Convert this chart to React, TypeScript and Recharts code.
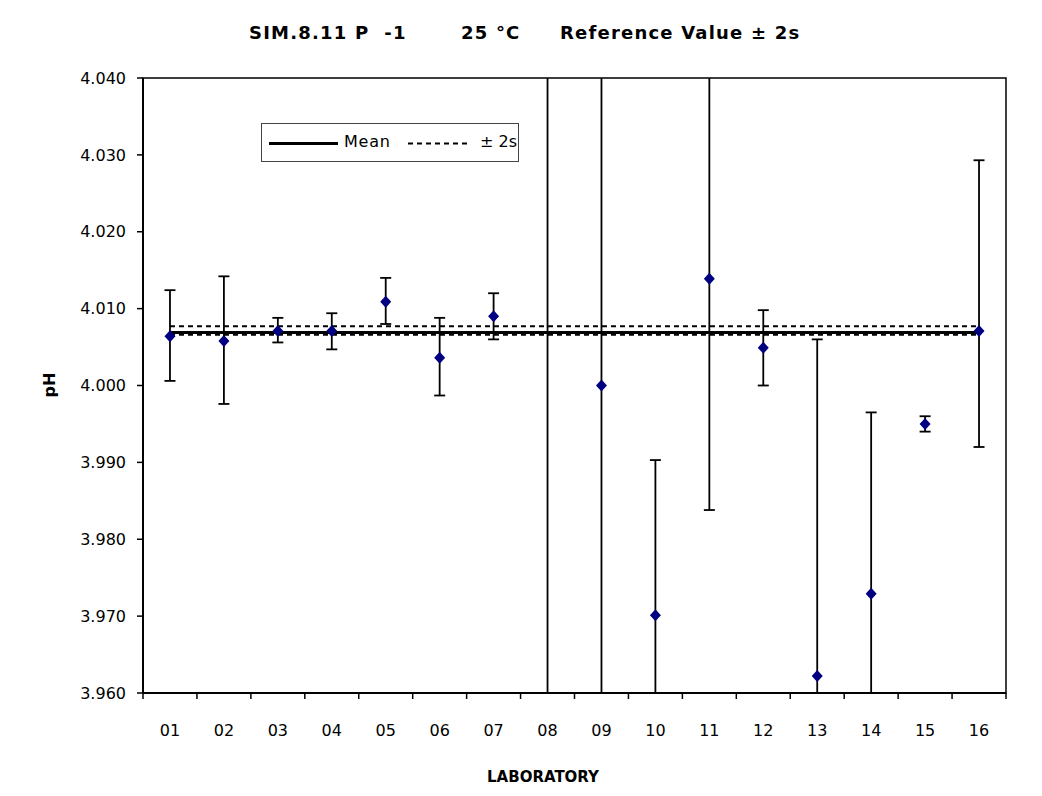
import React from 'react';
import {
  ScatterChart,
  Scatter,
  XAxis,
  YAxis,
  ErrorBar,
  ReferenceLine,
  ReferenceArea,
} from 'recharts';

const labs = ['01', '02', '03', '04', '05', '06', '07', '08', '09', '10', '11', '12', '13', '14', '15', '16'];
const values = [4.0064, 4.0058, 4.0071, 4.0071, 4.0109, 4.0036, 4.009, 4.06, 4.0, 3.9701, 4.0139, 4.0049, 3.9622, 3.9729, 3.995, 4.0071];
const upper = [4.0124, 4.0142, 4.0088, 4.0094, 4.014, 4.0088, 4.012, 4.2, 4.2, 3.9903, 4.2, 4.0098, 4.006, 3.9965, 3.996, 4.0293];
const lower = [4.0006, 3.9976, 4.0056, 4.0047, 4.008, 3.9987, 4.006, 3.8, 3.8, 3.8, 3.9838, 4.0, 3.8, 3.8, 3.994, 3.992];
const meanValue = 4.0069;
const upper2s = 4.0077;
const lower2s = 4.0066;
const yTicks = [3.96, 3.97, 3.98, 3.99, 4.0, 4.01, 4.02, 4.03, 4.04];

const data = labs.map((lab, i) => ({
  x: i + 1,
  lab,
  y: values[i],
  err: [values[i] - lower[i], upper[i] - values[i]],
}));

const xTicks: number[] = [];
for (let i = 0; i <= labs.length; i++) {
  xTicks.push(i + 0.5);
  if (i < labs.length) xTicks.push(i + 1);
}

const FONT = "'DejaVu Sans', sans-serif";

const XTick = (props: any) => {
  const { x, y, payload } = props;
  const v = payload.value;
  if (Number.isInteger(v)) {
    return (
      <text x={x} y={y + 43} textAnchor="middle" fontSize={16} fontFamily={FONT} fill="#000">
        {labs[v - 1]}
      </text>
    );
  }
  return <line x1={x} y1={y} x2={x} y2={y + 6} stroke="#000" strokeWidth={1.5} />;
};

const Diamond = (props: any) => {
  const { cx, cy } = props;
  if (cx == null || cy == null) return null;
  const w = 5.5;
  const h = 6;
  return (
    <path
      d={`M${cx},${cy - h}L${cx + w},${cy}L${cx},${cy + h}L${cx - w},${cy}Z`}
      fill="#000080"
      stroke="none"
    />
  );
};

export default function App() {
  return (
    <div
      style={{
        position: 'relative',
        width: 1042,
        height: 796,
        margin: -8,
        background: '#fff',
        fontFamily: FONT,
        overflow: 'hidden',
      }}
    >
      <style>{`.recharts-errorBars, .recharts-scatter-symbol { clip-path: url(#plotAreaClip); }`}</style>
      <svg width={0} height={0} style={{ position: 'absolute' }}>
        <defs>
          <clipPath id="plotAreaClip" clipPathUnits="userSpaceOnUse">
            <rect x={143} y={78} width={863} height={615} />
          </clipPath>
        </defs>
      </svg>
      <div
        style={{
          position: 'absolute',
          left: 4,
          top: 0,
          width: 2,
          height: 796,
          background: '#333',
        }}
      />
      <div
        style={{
          position: 'absolute',
          left: 249,
          top: 21,
          fontSize: 18,
          fontWeight: 'bold',
          whiteSpace: 'pre',
          color: '#000',
          lineHeight: '24px',
          letterSpacing: 1.2,
        }}
      >
        <span style={{ position: 'absolute', left: 0 }}>SIM.8.11 P  -1</span>
        <span style={{ position: 'absolute', left: 212 }}>25 °C</span>
        <span style={{ position: 'absolute', left: 311 }}>Reference Value ± 2s</span>
      </div>
      <ScatterChart
        width={1042}
        height={796}
        margin={{ top: 78, right: 36, bottom: 43, left: 0 }}
      >
        <XAxis
          type="number"
          dataKey="x"
          domain={[0.5, 16.5]}
          ticks={xTicks}
          interval={0}
          allowDataOverflow
          tickLine={false}
          tickSize={0}
          tickMargin={0}
          height={60}
          axisLine={{ stroke: '#000', strokeWidth: 2 }}
          tick={<XTick />}
          label={(p: any) => (
            <text x={543} y={782} textAnchor="middle" fontSize={15} fontWeight="bold" fontFamily={FONT} fill="#000">
              LABORATORY
            </text>
          )}
        />
        <YAxis
          type="number"
          dataKey="y"
          domain={[3.96, 4.04]}
          ticks={yTicks}
          interval={0}
          allowDataOverflow
          width={143}
          tickSize={6}
          tickMargin={11}
          tickFormatter={(v: number) => v.toFixed(3)}
          tick={{ fill: '#000', fontSize: 16, fontFamily: FONT }}
          tickLine={{ stroke: '#000', strokeWidth: 1.5 }}
          axisLine={{ stroke: '#000', strokeWidth: 2 }}
          label={(p: any) => (
            <text
              x={55}
              y={385}
              transform="rotate(-90 55 385)"
              textAnchor="middle"
              fontSize={16}
              fontWeight="bold"
              fontFamily={FONT}
              fill="#000"
            >
              pH
            </text>
          )}
        />
        <ReferenceArea
          x1={0.5}
          x2={16.5}
          y1={3.96}
          y2={4.04}
          fill="none"
          fillOpacity={0}
          stroke="#000"
          strokeWidth={1.5}
        />
        <ReferenceLine
          segment={[{ x: 1, y: upper2s }, { x: 16, y: upper2s }]}
          stroke="#000"
          strokeWidth={2}
          strokeDasharray="5 4"
        />
        <ReferenceLine
          segment={[{ x: 1, y: lower2s }, { x: 16, y: lower2s }]}
          stroke="#000"
          strokeWidth={2}
          strokeDasharray="5 4"
        />
        <ReferenceLine
          segment={[{ x: 1, y: meanValue }, { x: 16, y: meanValue }]}
          stroke="#000"
          strokeWidth={3}
        />
        <Scatter data={data} shape={<Diamond />} isAnimationActive={false}>
          <ErrorBar dataKey="err" direction="y" width={5.5} stroke="#000" strokeWidth={1.8} />
        </Scatter>
      </ScatterChart>
      <div
        style={{
          position: 'absolute',
          left: 261,
          top: 123,
          width: 256,
          height: 37,
          border: '1px solid #444',
          background: '#fff',
          fontSize: 16,
          color: '#000',
        }}
      >
        <svg width={256} height={37} style={{ position: 'absolute', left: 0, top: 0 }}>
          <line x1={7} y1={19.5} x2={76} y2={19.5} stroke="#000" strokeWidth={3} />
          <line x1={146} y1={19.5} x2={207} y2={19.5} stroke="#000" strokeWidth={2} strokeDasharray="5 4" />
        </svg>
        <span style={{ position: 'absolute', left: 82, top: 8, lineHeight: '20px', letterSpacing: 0.8 }}>Mean</span>
        <span style={{ position: 'absolute', left: 218, top: 8, lineHeight: '20px' }}>± 2s</span>
      </div>
    </div>
  );
}
